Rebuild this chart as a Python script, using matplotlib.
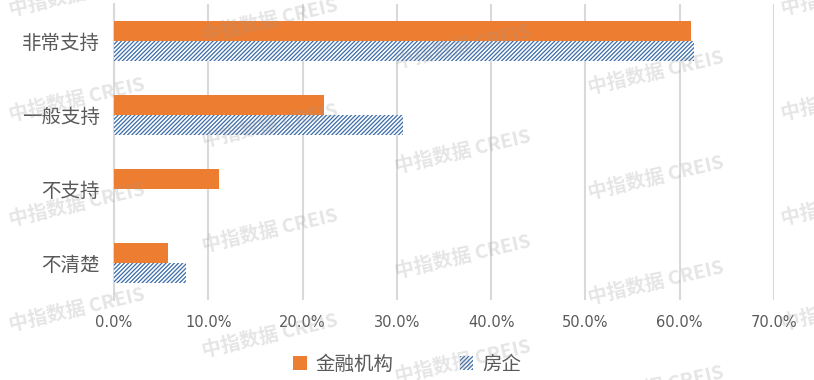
import matplotlib
matplotlib.use("Agg")
import matplotlib.pyplot as plt
import numpy as np

plt.rcParams['font.family'] = ['Noto Sans CJK SC', 'DejaVu Sans']
plt.rcParams['hatch.linewidth'] = 0.9

categories = ["非常支持", "一般支持", "不支持", "不清楚"]
series_names = ["金融机构", "房企"]
finance_vals = [61.2, 22.3, 11.1, 5.7]
developer_vals = [61.5, 30.7, 0.0, 7.6]
xticks = [0, 10, 20, 30, 40, 50, 60, 70]
xtick_labels = ["0.0%", "10.0%", "20.0%", "30.0%", "40.0%", "50.0%", "60.0%", "70.0%"]
watermark = "中指数据 CREIS"

W, H = 814, 380
fig = plt.figure(figsize=(W / 100, H / 100), dpi=100)
ax = fig.add_axes([114 / W, 1 - 300 / H, (774 - 114) / W, (300 - 4) / H])

orange = "#ED7D31"
hatch_col = "#3A6BAA"
text_col = "#595959"
grid_col = "#D9D9D9"

y = np.arange(len(categories))
bh = 0.27
ax.barh(y - bh / 2, finance_vals, height=bh, color=orange, label=series_names[0], zorder=3)
ax.barh(y + bh / 2, developer_vals, height=bh, facecolor="white", edgecolor=hatch_col,
        linewidth=0, hatch="////////", label=series_names[1], zorder=3)

ax.set_ylim(len(categories) - 0.5, -0.5)
ax.set_xlim(0, 70)
ax.set_xticks(xticks)
ax.set_xticklabels(xtick_labels)
ax.set_yticks(y)
ax.set_yticklabels(categories)
ax.tick_params(axis="both", length=0, colors=text_col)
ax.tick_params(axis="x", pad=11, labelsize=10.5)
ax.tick_params(axis="y", pad=10, labelsize=14)
for lab in ax.get_xticklabels():
    lab.set_fontfamily(['DejaVu Sans'])

ax.grid(axis="x", color=grid_col, linewidth=1.5, zorder=0)
ax.set_axisbelow(True)
for s in ["top", "right", "bottom"]:
    ax.spines[s].set_visible(False)
ax.spines["left"].set_color(grid_col)
ax.spines["left"].set_linewidth(1.5)

handles, labels = ax.get_legend_handles_labels()
fig.legend(handles, labels, loc="center", bbox_to_anchor=(0.5, 1 - 364 / H), ncol=2,
           frameon=False, fontsize=14, labelcolor=text_col, handlelength=0.7,
           handleheight=0.7, handletextpad=0.45, columnspacing=3.4)

# watermark tiles
for k in range(0, 5):
    for j in range(-1, 5):
        cx = 77 + 193 * k
        cy = -5 + 26 * k + 105 * j
        if -40 < cy < H + 40:
            fig.text(cx / W, 1 - cy / H, watermark, fontsize=14, fontweight="bold",
                     color="#999999", alpha=0.25, rotation=13, ha="center", va="center",
                     zorder=10)

fig.savefig("out.png", dpi=100)
